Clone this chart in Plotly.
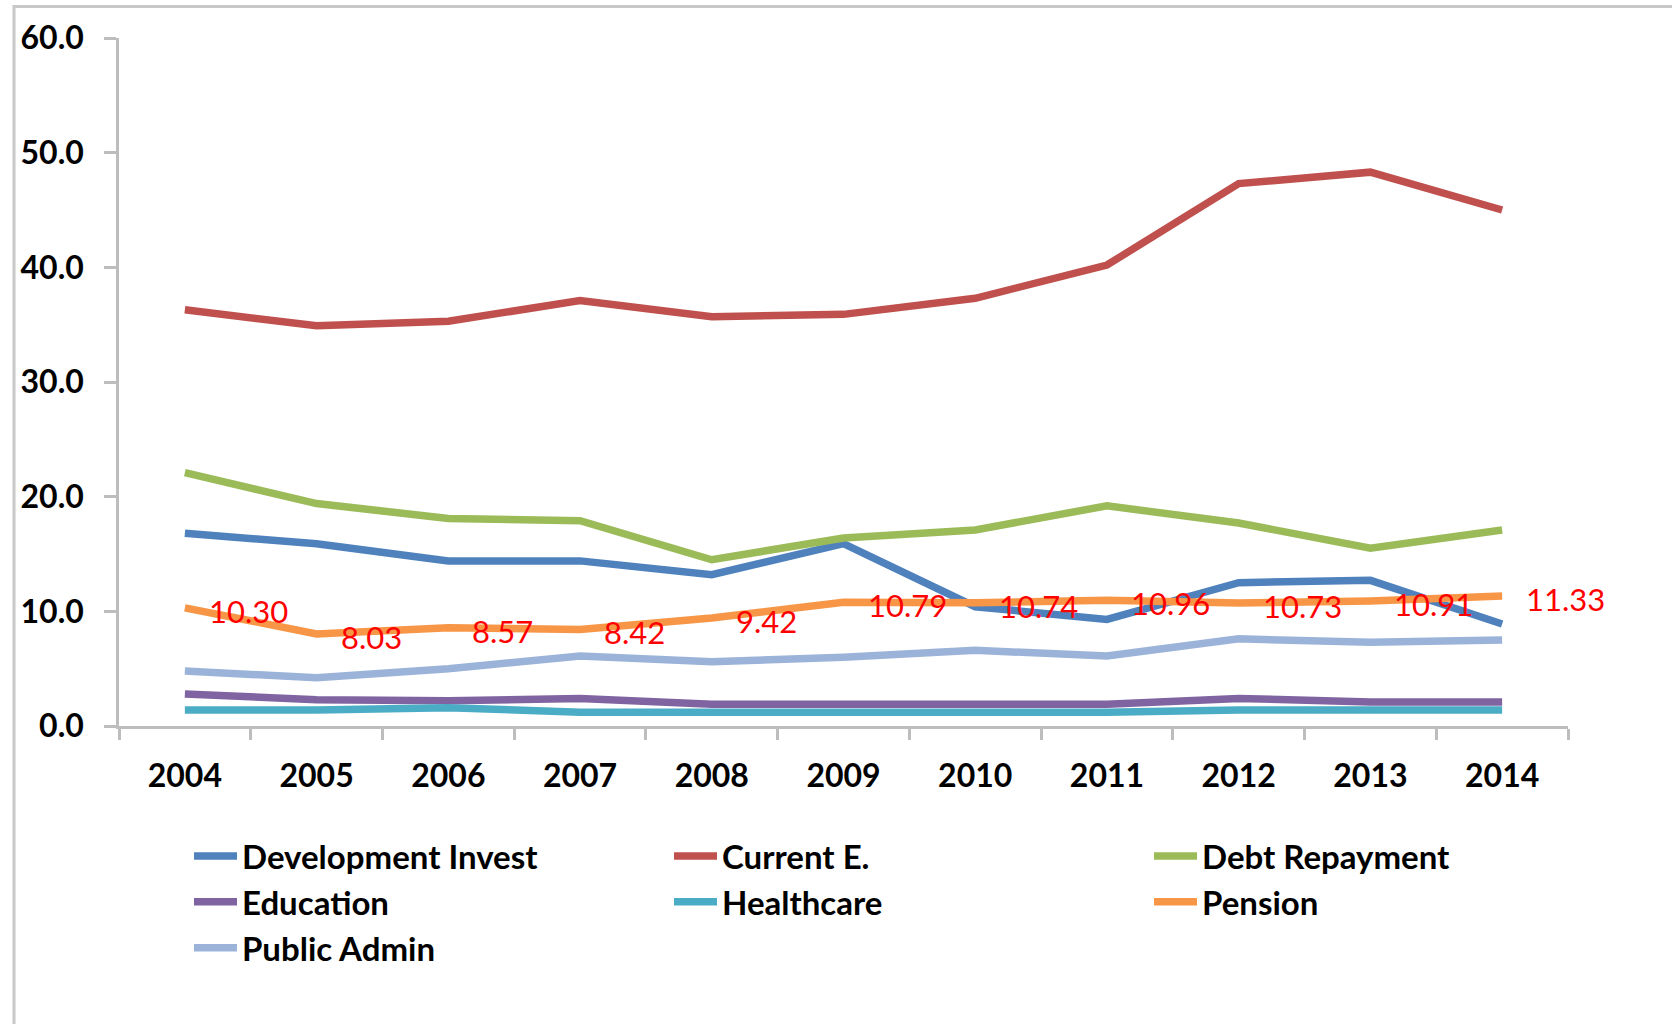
import plotly.graph_objects as go

years = ["2004", "2005", "2006", "2007", "2008", "2009", "2010", "2011", "2012", "2013", "2014"]

development_invest = [16.8, 15.9, 14.4, 14.4, 13.2, 15.9, 10.4, 9.3, 12.5, 12.7, 8.9]
current_e = [36.3, 34.9, 35.3, 37.1, 35.7, 35.9, 37.3, 40.2, 47.3, 48.3, 45.0]
debt_repayment = [22.1, 19.4, 18.1, 17.9, 14.5, 16.4, 17.1, 19.2, 17.7, 15.5, 17.1]
education = [2.8, 2.3, 2.2, 2.4, 1.9, 1.9, 1.8, 1.9, 2.4, 2.1, 2.1]
healthcare = [1.4, 1.4, 1.6, 1.2, 1.2, 1.2, 1.2, 1.2, 1.4, 1.4, 1.4]
pension = [10.30, 8.03, 8.57, 8.42, 9.42, 10.79, 10.74, 10.96, 10.73, 10.91, 11.33]
public_admin = [4.8, 4.2, 5.0, 6.1, 5.6, 6.0, 6.6, 6.1, 7.6, 7.3, 7.5]

series = [
    ("Development Invest", development_invest, "#4F81BD"),
    ("Current E.", current_e, "#C0504D"),
    ("Debt Repayment", debt_repayment, "#9BBB59"),
    ("Education", education, "#8064A2"),
    ("Healthcare", healthcare, "#4BACC6"),
    ("Pension", pension, "#F79646"),
    ("Public Admin", public_admin, "#9BB3D9"),
]

W, H = 1672, 1024
ML, MR, MT, MB = 119, 104, 38, 298
PW, PH = W - ML - MR, H - MT - MB

FONT = "Lato, 'Open Sans', sans-serif"
AXIS_GREY = "#BDBDBD"

fig = go.Figure()
for name, vals, color in series:
    fig.add_trace(go.Scatter(
        x=years, y=vals, name=name, mode="lines",
        line=dict(color=color, width=7.5),
    ))

# value labels for the pension series (x given as category position)
for i, v in enumerate(pension):
    fig.add_annotation(
        x=i, y=v, text=f"{v:.2f}", showarrow=False,
        xanchor="left", yanchor="middle", xshift=22, yshift=-3,
        font=dict(family=FONT, size=31, color="#FF0000"),
    )

# outer chart frame
def px_x(p):
    return (p - ML) / PW

def px_y(p):
    return (H - MB - p) / PH

fig.add_shape(
    type="rect", xref="paper", yref="paper",
    x0=px_x(14), x1=px_x(1700), y0=px_y(1050), y1=px_y(6.5),
    line=dict(color="#C8C8C8", width=3), fillcolor="rgba(0,0,0,0)", layer="below",
)

fig.update_layout(
    width=W, height=H,
    margin=dict(l=ML, r=MR, t=MT, b=MB, autoexpand=False),
    paper_bgcolor="white", plot_bgcolor="white",
    font=dict(family=FONT, color="#000000"),
    showlegend=True,
    legend=dict(
        orientation="h", x=px_x(189), y=px_y(828), xanchor="left", yanchor="top",
        entrywidth=422, entrywidthmode="pixels",
        font=dict(family=FONT, size=33, weight="bold", color="#000000"),
        itemwidth=43, tracegroupgap=0, bgcolor="rgba(0,0,0,0)",
    ),
)

fig.update_xaxes(
    type="category", range=[-0.5, 10.5], tickson="boundaries",
    showgrid=False, zeroline=False,
    showline=True, linecolor=AXIS_GREY, linewidth=3,
    ticks="outside", ticklen=11, tickwidth=2.5, tickcolor=AXIS_GREY,
    ticklabelstandoff=20,
    tickfont=dict(family=FONT, size=32, weight="bold", color="#000000"),
)
fig.update_yaxes(
    range=[0, 60], dtick=10, tickformat=".1f",
    showgrid=False, zeroline=False,
    showline=True, linecolor=AXIS_GREY, linewidth=2.5,
    ticks="outside", ticklen=12, tickwidth=2.5, tickcolor=AXIS_GREY,
    ticklabelstandoff=14,
    tickfont=dict(family=FONT, size=32, weight="bold", color="#000000"),
)

fig.write_html("out.html")
